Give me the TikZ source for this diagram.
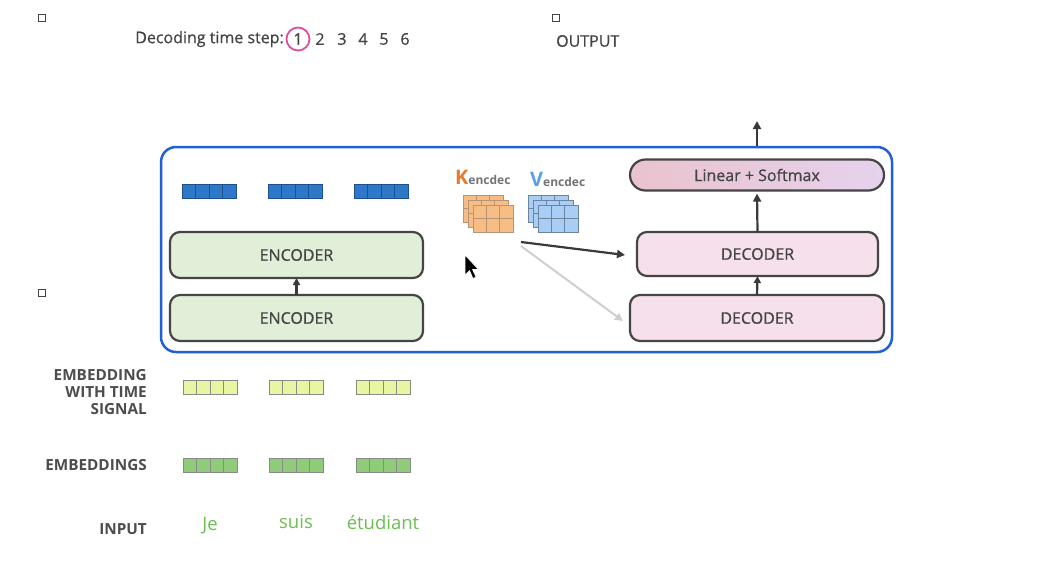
\documentclass[tikz,border=0pt]{standalone}
\usepackage{fontspec}
\setmainfont{Open Sans}
\newfontfamily\medium[FakeBold=0.7]{Open Sans}
\usetikzlibrary{arrows.meta}
\definecolor{txt}{HTML}{444444}
\definecolor{frameblue}{HTML}{1F5FD8}
\definecolor{encfill}{HTML}{E1EFD9}
\definecolor{decfill}{HTML}{F6E0EB}
\definecolor{boxline}{HTML}{454545}
\definecolor{outblue}{HTML}{2D78C8}
\definecolor{outblueline}{HTML}{1D4F8A}
\definecolor{timefill}{HTML}{E8F5A2}
\definecolor{embfill}{HTML}{8FCC78}
\definecolor{cellline}{HTML}{8A8A8A}
\definecolor{wordgreen}{HTML}{6DBE4E}
\definecolor{kor}{HTML}{E8792C}
\definecolor{korfill}{HTML}{F6BE84}
\definecolor{vbl}{HTML}{5A9EE8}
\definecolor{vblfill}{HTML}{A9CDF5}
\definecolor{pinkc}{HTML}{E0509A}
\definecolor{lsleft}{HTML}{E9C3CE}
\definecolor{lsright}{HTML}{E6D2EE}
\definecolor{lightarrow}{HTML}{CFCFCF}
\definecolor{darkarrow}{HTML}{3A3A3A}
\newcommand\cellrow[4]{% x,y (top-left), fill, line
  \foreach \i in {0,...,3}{
    \draw[fill=#3,draw=#4,line width=0.8pt] ({#1+\i*13.5},#2) rectangle ++(13.5,14);
  }}
\newcommand\gridlayer[4]{% x,y top-left, fill, line
  \foreach \i in {0,1,2}{\foreach \j in {0,1}{
    \draw[fill=#3,draw=#4,line width=0.8pt] ({#1+\i*13.3},{#2+\j*13.5}) rectangle ++(13.3,13.5);
  }}}
\tikzset{
  mtext/.style={font=\medium\fontsize{16}{19}\selectfont,text=txt},
  block/.style={draw=boxline,line width=2.2pt,rounded corners=10pt,minimum height=46pt,inner sep=0pt,outer sep=0pt,mtext},
  enc/.style={block,fill=encfill,minimum width=253pt},
  dec/.style={block,fill=decfill},
  lbl/.style={font=\bfseries\fontsize{15.3}{17}\selectfont,text=txt!95,align=right,anchor=east,inner sep=0pt},
  word/.style={font=\fontsize{18.5}{20}\selectfont,text=wordgreen,inner sep=0pt},
  arr/.style={line width=2.2pt,draw=darkarrow,-{Triangle[length=8pt,width=8pt]}},
  tiny/.style={draw=txt,line width=0.8pt,minimum size=7pt,inner sep=0pt},
}
\begin{document}
\begin{tikzpicture}[x=1pt,y=-1pt]
\useasboundingbox[fill=white] (0,0) rectangle (1062,560);
% small markers
\node[tiny] (m1) at (42,18) {};
\node[tiny] (m2) at (556,18) {};
\node[tiny] (m3) at (42,293) {};
% top line
\node[mtext,anchor=east,inner sep=0pt] (dts) at (284,39) {Decoding time step:};
\node[mtext,circle,draw=pinkc,line width=1.8pt,minimum size=23pt,inner sep=0pt] (t1) at (298,39) {1};
\foreach \n/\xx in {2/320,3/342,4/363,5/384,6/405}{
  \node[mtext,inner sep=0pt] (t\n) at (\xx,39) {\n};
}
\node[mtext,anchor=west,inner sep=0pt] (out) at (556,41) {OUTPUT};
% frame
\node[draw=frameblue,line width=2.5pt,rounded corners=15pt,minimum width=731pt,minimum height=205pt,inner sep=0pt] (frame) at (526.5,249.5) {};
% encoders
\node[enc] (enc2) at (296.5,255) {ENCODER};
\node[enc] (enc1) at (296.5,318) {ENCODER};
\draw[arr,-{Triangle[length=7pt,width=7pt]}] (enc1.north) -- (enc2.south);
% decoders
\node[dec,minimum width=241pt,minimum height=44pt] (dec2) at (757.5,254) {DECODER};
\node[dec,minimum width=254pt] (dec1) at (757,318) {DECODER};
\node[draw=boxline,line width=2.2pt,rounded corners=15.5pt,minimum width=254pt,minimum height=31pt,inner sep=0pt,left color=lsleft,right color=lsright,mtext] (ls) at (757,175) {Linear + Softmax};
\draw[arr,-{Triangle[length=7pt,width=7pt]}] (dec1.north) -- (dec2.south);
\draw[arr] (dec2.north) -- ([yshift=-2pt]ls.south);
\coordinate (top) at (757,121);
\draw[arr] (frame.north -| ls.north) -- (top);
% encoder output vectors
\cellrow{182}{184}{outblue}{outblueline}
\cellrow{268}{184}{outblue}{outblueline}
\cellrow{354}{184}{outblue}{outblueline}
% K and V
\node[anchor=base west,inner sep=0pt] (klab) at (455,184) {\textcolor{kor}{\bfseries\fontsize{20}{20}\selectfont K}\textcolor{txt!75}{\bfseries\fontsize{12}{12}\selectfont encdec}};
\node[anchor=base west,inner sep=0pt] (vlab) at (530,186) {\textcolor{vbl}{\bfseries\fontsize{20}{20}\selectfont V}\textcolor{txt!75}{\bfseries\fontsize{12}{12}\selectfont encdec}};
\gridlayer{463}{195}{korfill}{kor!60!black!60}
\gridlayer{468}{200}{korfill}{kor!60!black!60}
\gridlayer{473}{205}{korfill}{kor!60!black!60}
\gridlayer{528}{195}{vblfill}{vbl!50!black!70}
\gridlayer{533}{200}{vblfill}{vbl!50!black!70}
\gridlayer{538}{205}{vblfill}{vbl!50!black!70}
\coordinate (kv1) at (521,242);
\coordinate (kv2) at (521,246);
\draw[arr] (kv1) -- ([xshift=-12pt,yshift=-1pt]dec2.west);
\draw[line width=2pt,draw=lightarrow,-{Triangle[length=8pt,width=8pt]}] (kv2) -- ([xshift=-7pt,yshift=-3pt]dec1.west);
% cursor
\draw[fill=black,draw=white,line width=0.6pt,line join=round] (465,255) -- (465,275) -- (469.5,270.5) -- (473,278.5) -- (476,277) -- (472.5,269.5) -- (478.5,269.5) -- cycle;
% left labels
\node[lbl] (l1) at (147,392) {EMBEDDING\\WITH TIME\\SIGNAL};
\node[lbl] (l2) at (147,465) {EMBEDDINGS};
\node[lbl] (l3) at (147,529) {INPUT};
% embeddings
\cellrow{183}{380}{timefill}{cellline}
\cellrow{269}{380}{timefill}{cellline}
\cellrow{356}{380}{timefill}{cellline}
\cellrow{183}{458}{embfill}{cellline}
\cellrow{269}{458}{embfill}{cellline}
\cellrow{356}{458}{embfill}{cellline}
% words
\node[word] (w1) at (210,526) {Je};
\node[word] (w2) at (296,522) {suis};
\node[word] (w3) at (383,522) {étudiant};
\end{tikzpicture}
\end{document}
